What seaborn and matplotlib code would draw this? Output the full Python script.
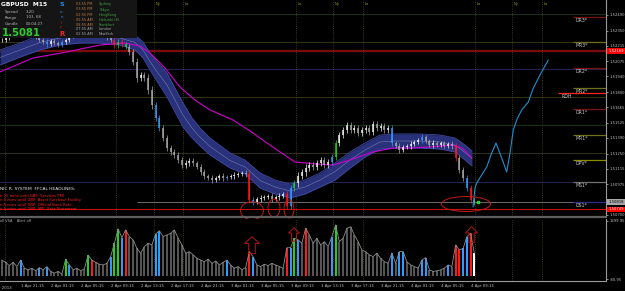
import numpy as np
import matplotlib
matplotlib.use("Agg")
import matplotlib.pyplot as plt
import seaborn as sns
from matplotlib.patches import Rectangle, Ellipse, Polygon
from matplotlib.lines import Line2D

# ---------------- data ----------------
# 30-minute closes, GBPUSD, starting 1 Apr 18:30
close = [1.52266, 1.52284, 1.52311, 1.52329, 1.52356, 1.52338, 1.52364, 1.52347, 1.52320, 1.52293,
         1.52266, 1.52248, 1.52230, 1.52257, 1.52239, 1.52221, 1.52248, 1.52266, 1.52302, 1.52329,
         1.52356, 1.52373, 1.52382, 1.52364, 1.52347, 1.52356, 1.52329, 1.52311, 1.52284, 1.52266,
         1.52221, 1.52248, 1.52230, 1.52203, 1.52159, 1.52069, 1.51926, 1.51953, 1.51926, 1.51819,
         1.51684, 1.51568, 1.51478, 1.51389, 1.51299, 1.51264, 1.51237, 1.51192, 1.51147, 1.51165,
         1.51183, 1.51165, 1.51129, 1.51085, 1.51049, 1.51031, 1.51013, 1.51031, 1.51049, 1.51031,
         1.51040, 1.51049, 1.51058, 1.51067, 1.51076, 1.51067, 1.50834, 1.50816, 1.50843, 1.50852,
         1.50861, 1.50870, 1.50843, 1.50861, 1.50870, 1.50888, 1.50780, 1.50941, 1.50986, 1.51049,
         1.51085, 1.51120, 1.51147, 1.51129, 1.51165, 1.51192, 1.51147, 1.51174, 1.51219, 1.51344,
         1.51416, 1.51461, 1.51505, 1.51461, 1.51478, 1.51434, 1.51461, 1.51478, 1.51443, 1.51514,
         1.51478, 1.51496, 1.51461, 1.51478, 1.51344, 1.51317, 1.51282, 1.51308, 1.51317, 1.51335,
         1.51353, 1.51371, 1.51398, 1.51362, 1.51326, 1.51344, 1.51326, 1.51344, 1.51317, 1.51335,
         1.51317, 1.51210, 1.51103, 1.51031, 1.50941, 1.50834, 1.50818]
# candle wick extension (pips)
wick_pips = [3, 4, 3, 4, 3, 3, 4, 3, 4, 3, 4, 3, 5, 3, 4, 3, 4, 3, 3, 4,
             3, 3, 4, 3, 4, 3, 3, 4, 3, 4, 6, 5, 5, 4, 5, 6, 7, 6, 6, 7,
             7, 6, 6, 6, 5, 6, 5, 5, 6, 5, 5, 5, 4, 5, 5, 4, 5, 4, 4, 5,
             4, 4, 5, 4, 4, 5, 5, 5, 4, 5, 4, 4, 5, 4, 5, 4, 5, 6, 6, 7,
             6, 8, 6, 5, 5, 6, 5, 5, 5, 6, 6, 5, 6, 6, 5, 6, 5, 6, 5, 6,
             5, 5, 5, 5, 6, 4, 5, 4, 4, 5, 4, 4, 5, 4, 4, 5, 4, 4, 4, 4,
             5, 5, 5, 5, 6, 5, 5]
candle_marks = {12: 'b', 16: 'b', 30: 'r', 31: 'g', 32: 'r', 33: 'g', 41: 'b', 42: 'b',
                60: 'b', 66: 'r', 67: 'b', 76: 'r', 77: 'b', 78: 'g', 88: 'b', 89: 'g',
                104: 'b', 112: 'b', 121: 'r', 124: 'b', 125: 'r'}

volume = [500, 430, 330, 430, 300, 500, 250, 200, 250, 170,
          270, 200, 300, 150, 100, 150, 70, 520, 350, 200,
          250, 170, 230, 650, 500, 430, 370, 350, 400, 600,
          1015, 1455, 1190, 1425, 1220, 1120, 860, 710, 910, 1015,
          965, 1300, 1400, 1220, 1270, 1320, 1425, 1170, 965, 710,
          760, 660, 555, 500, 450, 530, 400, 470, 350, 430,
          500, 350, 250, 300, 200, 270, 760, 600, 350, 300,
          370, 330, 400, 350, 300, 250, 880, 880, 1170, 1120,
          1015, 1475, 1270, 1015, 1170, 965, 1066, 910, 1220, 1578,
          1066, 1170, 1475, 1525, 1270, 1066, 810, 760, 660, 605,
          710, 555, 450, 400, 710, 400, 760, 760, 450, 350,
          300, 250, 500, 575, 200, 150, 170, 200, 250, 350,
          300, 965, 810, 860, 1220, 1320, 710]
vol_marks = {5: 'b', 10: 'b', 12: 'b', 17: 'g', 18: 'b', 23: 'g', 24: 'r', 29: 'b', 30: 'g',
             31: 'g', 32: 'b', 33: 'r', 41: 'b', 42: 'b', 60: 'b', 66: 'r', 67: 'b', 76: 'r',
             77: 'b', 78: 'g', 79: 'b', 81: 'r', 88: 'b', 89: 'g', 104: 'b', 106: 'b', 107: 'b',
             112: 'b', 113: 'b', 119: 'b', 121: 'r', 122: 'r', 123: 'b', 124: 'b', 125: 'r', 126: 'w'}

# envelope band (hours since start)
band_t = [0, 2.67, 5.33, 8, 10.67, 13.33, 16, 18, 19.07, 20, 21.07, 22.27, 23.33, 24.4, 25.6,
          26.67, 28, 30.67, 32.67, 34.67, 36.67, 38.67, 40.67, 42.67, 44.67, 46.67, 48.67,
          50.67, 52.67, 54.67, 56, 58.67, 60.67, 62, 62.93]
band_hi = [1.52177, 1.52239, 1.52311, 1.52347, 1.52364, 1.52364, 1.52347, 1.52311, 1.52248,
           1.52150, 1.52060, 1.51971, 1.51836, 1.51702, 1.51568, 1.51478, 1.51389, 1.51255,
           1.51192, 1.51076, 1.51013, 1.50977, 1.51013, 1.51076, 1.51165, 1.51264, 1.51344,
           1.51416, 1.51425, 1.51425, 1.51425, 1.51416, 1.51389, 1.51326, 1.51273]
band_lo = [1.52042, 1.52114, 1.52177, 1.52221, 1.52239, 1.52239, 1.52221, 1.52177, 1.52105,
           1.51998, 1.51881, 1.51756, 1.51622, 1.51487, 1.51389, 1.51317, 1.51237, 1.51120,
           1.51067, 1.50941, 1.50888, 1.50852, 1.50888, 1.50950, 1.51013, 1.51120, 1.51219,
           1.51290, 1.51299, 1.51299, 1.51299, 1.51290, 1.51264, 1.51192, 1.51138]
ma_t = [0, 4.4, 8.93, 13.33, 16.67, 18.67, 20, 22, 24, 26, 28, 31.07, 33.33, 35.6, 37.33,
        39.33, 42.27, 44.4, 46.67, 49.73, 52.4, 54.67, 57.33, 60.27, 61.6, 62.93]
ma_p = [1.51980, 1.52105, 1.52159, 1.52221, 1.52239, 1.52212, 1.52150, 1.52015, 1.51845,
        1.51729, 1.51640, 1.51550, 1.51452, 1.51344, 1.51264, 1.51174, 1.51156, 1.51147,
        1.51192, 1.51264, 1.51299, 1.51299, 1.51308, 1.51326, 1.51299, 1.51210]
proj_t = [63.07, 63.33, 63.56, 64.23, 64.89, 65.56, 66.13, 66.89, 67.56, 68.0, 68.44, 68.89,
          69.56, 70.44, 71.11, 72.0, 73.11]
proj_p = [1.50771, 1.50941, 1.50986, 1.51058, 1.51129, 1.51255, 1.51344, 1.51210, 1.51085,
          1.51255, 1.51461, 1.51550, 1.51640, 1.51711, 1.51836, 1.51953, 1.52087]

session_t = [0.67, 15.47, 20.53, 24.4, 39.47, 44.4, 48.4, 63.33, 68.27, 72.27]
session_lbl = ["", "Lo", "Ny", "Lo", "Lo", "Ny", "Lo", "Lo", "Ny", "Lo"]

date_t = [2.8 + 4 * k for k in range(16)]
date_labels = ["1 Apr 21:15", "2 Apr 01:15", "2 Apr 05:15", "2 Apr 09:15", "2 Apr 13:15",
               "2 Apr 17:15", "2 Apr 21:15", "3 Apr 01:15", "3 Apr 05:15", "3 Apr 09:15",
               "3 Apr 13:15", "3 Apr 17:15", "3 Apr 21:15", "4 Apr 01:15", "4 Apr 05:15",
               "4 Apr 09:15"]
price_ticks = [1.52490, 1.52350, 1.52215, 1.52075, 1.51940, 1.51800, 1.51665, 1.51525,
               1.51390, 1.51250, 1.51115, 1.50975, 1.50700]
vol_ticks = [1699.95, -80.95]

grid_levels = [1.52499, 1.52248, 1.52006, 1.51756, 1.51505, 1.51255, 1.50995]
grid_colors = ["#1f3a1f", "#3c3c16", "#2a2a5c", "#3c3c16", "#173d17", "#3a3a20", "#2a2a5c"]
res_line = 1.52169
sup_line = 1.50749
bid = 1.50818

pivot_names = ["DR3*", "MR3*", "DR2*", "MR2*", "DR1*", "MR1*", "DPV*", "MS1*", "DS1*"]
pivot_prices = [1.52472, 1.52248, 1.52015, 1.51836, 1.51648, 1.51416, 1.51192, 1.50995, 1.50816]
pivot_colors = ["#7a1212", "#70701a", "#7a1212", "#70701a", "#7a1212", "#70701a", "#8c8c00",
                "#707070", "#2a2a90"]
rdh_price = 1.51792

headline_title = "NIC R. SYSTEM  FFCAL HEADLINES:"
headlines = ["n 25 mins until GBP: Services PMI",
             "n 5 mins until GBP: Asset Purchase Facility",
             "n 5 mins until GBP: Official Bank Rate",
             "n 5 mins until GBP: MPC Rate Statement"]
session_times = ["03:55 PM", "03:55 PM", "02:55 PM", "05:55 AM", "08:55 AM", "07:55 AM", "02:55 AM"]
session_names = ["Sydney", "Tokyo", "HongKong", "Helsinki (8)", "Frankfurt", "London", "NewYork"]

# ---------------- style ----------------
sns.set_theme(style="dark", rc={"axes.facecolor": "black", "figure.facecolor": "black",
                                "axes.edgecolor": "#909090", "axes.grid": False,
                                "xtick.color": "#b8b8b8", "ytick.color": "#b8b8b8",
                                "text.color": "#c8c8c8"})
plt.rcParams["font.family"] = ["DejaVu Sans"]

MARK_COL = {"b": "#2f9bff", "g": "#1ed21e", "r": "#ff1a1a", "w": "#ffffff"}
W, H = 625, 291
PX_PER_HOUR = 7.5
P_TOP, P_PER_PX = 1.52624, 0.0000895
V_PER_PX = 30.7


def fx(px):
    return px / W


def fy(py):
    return 1 - py / H


fig = plt.figure(figsize=(6.25, 2.91), dpi=100)
ax = fig.add_axes([0, fy(217), 606 / W, 217 / H])
axv = fig.add_axes([0, fy(281), 606 / W, (281 - 219) / H])
T_MAX = 606 / PX_PER_HOUR
ax.set_xlim(0, T_MAX)
ax.set_ylim(P_TOP - 217 * P_PER_PX, P_TOP)
axv.set_xlim(0, T_MAX)
axv.set_ylim(-80.95 - 2 * V_PER_PX, 1699.95 + 2 * V_PER_PX)

# ---------------- main panel ----------------
for p, c in zip(grid_levels, grid_colors):
    ax.axhline(p, color=c, lw=0.6, zorder=1)
ax.axhline(res_line, color="#760c0c", lw=1.7, zorder=1)
ax.axhline(sup_line, color="#c41010", lw=0.8, zorder=1)
ax.hlines(bid, 137 / PX_PER_HOUR, T_MAX, color="#6a6a6a", lw=0.7, zorder=1)

for st, lbl in zip(session_t, session_lbl):
    for a in (ax, axv):
        a.axvline(st, color="#4a4a1e", lw=0.6, ls=(0, (1, 1.6)), zorder=1)
    if lbl:
        ax.text(st + 2 / PX_PER_HOUR, P_TOP - 4 * P_PER_PX, lbl, color="#9a9a30",
                fontsize=2.6, va="center", ha="left", zorder=6)

# band
ax.fill_between(band_t, band_lo, band_hi, color="#28317a", lw=0, zorder=2)
ax.plot(band_t, band_hi, color="#3e4aa2", lw=0.6, zorder=2.1)
ax.plot(band_t, band_lo, color="#3e4aa2", lw=0.6, zorder=2.1)
ax.plot(band_t, (np.array(band_hi) + np.array(band_lo)) / 2, color="#8088b8", lw=0.35, zorder=2.2)

sns.lineplot(x=ma_t, y=ma_p, ax=ax, color="#d000d0", lw=0.8, estimator=None, sort=False, zorder=3)

# candles
n = len(close)
t = 0.25 + 0.5 * np.arange(n)
c_arr = np.array(close)
o_arr = np.r_[c_arr[0], c_arr[:-1]]
w_arr = np.array(wick_pips) * 0.00005
hi = np.maximum(o_arr, c_arr) + w_arr
lo = np.minimum(o_arr, c_arr) - w_arr
ccols = []
for i in range(n):
    if i in candle_marks:
        ccols.append(MARK_COL[candle_marks[i]])
    else:
        ccols.append("#f0f0f0" if c_arr[i] >= o_arr[i] else "#a6a6a6")
ax.vlines(t, lo, hi, colors=ccols, lw=0.5, zorder=4)
ax.vlines(t, np.minimum(o_arr, c_arr), np.maximum(o_arr, c_arr), colors=ccols, lw=1.1, zorder=4)

sns.lineplot(x=proj_t, y=proj_p, ax=ax, color="#1e8fd0", lw=0.8, estimator=None, sort=False, zorder=4)

# pivots
for name, p, c in zip(pivot_names, pivot_prices, pivot_colors):
    ax.hlines(p, 573 / PX_PER_HOUR, T_MAX, color=c, lw=0.9, zorder=2)
    ax.text(576 / PX_PER_HOUR, p - 0.6 * P_PER_PX, name, color="#c8c8c8", fontsize=3.3,
            va="top", ha="left", zorder=6)
ax.hlines(rdh_price, 558 / PX_PER_HOUR, T_MAX, color="#ff2020", lw=0.9, zorder=2)
ax.text(562 / PX_PER_HOUR, rdh_price - 1.0 * P_PER_PX, "RDH", color="#c8c8c8", fontsize=3.3,
        va="top", ha="left", zorder=6)

# ellipses and marker
ell = [(252, 210.7, 23, 18), (274, 208, 12, 18), (289, 209, 10, 18), (466, 204, 49, 15)]
for ex, ey, ew, eh in ell:
    e = Ellipse((ex / PX_PER_HOUR, P_TOP - ey * P_PER_PX), ew / PX_PER_HOUR, eh * P_PER_PX,
                fill=False, ec="#c01818", lw=0.7, zorder=5, clip_on=False)
    ax.add_patch(e)
ax.plot([478 / PX_PER_HOUR], [P_TOP - 202 * P_PER_PX], "s", color="#22e022", ms=2, zorder=6)

# axis styling main
for s in ("left", "top", "bottom"):
    ax.spines[s].set_visible(False)
ax.spines["right"].set_color("#9a9a9a")
ax.spines["right"].set_linewidth(0.8)
ax.set_xticks([])
ax.yaxis.tick_right()
ax.set_yticks(price_ticks)
ax.set_yticklabels([f"{v:.5f}" for v in price_ticks])
ax.tick_params(axis="y", labelsize=2.7, length=1.5, width=0.5, pad=1.2, colors="#c0c0c0")
ax.set_ylabel("")

tags = [(res_line, "1.52169", "#ff0000", "white"), (bid, "1.50818", "#a8a8a8", "black"),
        (sup_line, "1.50749", "#ff0000", "white")]
for p, txt, bg, fg in tags:
    ax.text(1.004, p, txt, transform=ax.get_yaxis_transform(), fontsize=2.7, color=fg,
            ha="left", va="center", zorder=7, clip_on=False,
            bbox=dict(boxstyle="square,pad=0.25", fc=bg, ec="none"))

# ---------------- volume panel ----------------
vcols = [MARK_COL[vol_marks[i]] if i in vol_marks else "#555555" for i in range(n)]
axv.bar(t, volume, width=0.28, color=vcols, lw=0, zorder=2)
sns.lineplot(x=t, y=volume, ax=axv, color="#8c8c8c", lw=0.6, estimator=None, zorder=3)

arrows = [(252, 236.7, 15, 17), (294, 227.7, 11, 13.5), (471.5, 226.5, 12, 16)]
for axp, ayp, aw, ah in arrows:
    hh = ah * 0.4
    sw = aw * 0.22
    pts_px = [(0, 0), (aw / 2, hh), (sw, hh), (sw, ah), (-sw, ah), (-sw, hh), (-aw / 2, hh)]
    pts = [((axp + dx) / PX_PER_HOUR, 1699.95 - (ayp + dy - 221) * V_PER_PX) for dx, dy in pts_px]
    axv.add_patch(Polygon(pts, closed=True, fill=False, ec="#b01515", lw=0.7, zorder=5,
                          clip_on=False))

for s in ("left", "top"):
    axv.spines[s].set_visible(False)
for s in ("right", "bottom"):
    axv.spines[s].set_color("#9a9a9a")
    axv.spines[s].set_linewidth(0.8)
axv.yaxis.tick_right()
axv.set_yticks(vol_ticks)
axv.set_yticklabels([f"{v:.2f}" for v in vol_ticks])
axv.tick_params(axis="y", labelsize=2.7, length=1.5, width=0.5, pad=1.2, colors="#c0c0c0")
axv.set_xticks(date_t)
axv.set_xticklabels(date_labels, ha="left")
axv.tick_params(axis="x", labelsize=2.8, length=1.5, width=0.5, pad=1.0, colors="#c0c0c0")
axv.set_xlabel("")
axv.set_ylabel("")
fig.text(fx(-10), fy(288), "1 Apr 2013", fontsize=2.8, color="#c0c0c0", ha="left", va="center")

# separator between panels
fig.add_artist(Line2D([0, fx(606)], [fy(216.6), fy(216.6)], color="#5e5e5e", lw=1.6,
                      transform=fig.transFigure, zorder=3))

# ---------------- overlay texts ----------------
fig.add_artist(Rectangle((0, fy(38)), fx(137), 38 / H, transform=fig.transFigure,
                         fc="#151515", ec="none", zorder=5))
fig.text(fx(1), fy(5), "GBPUSD  M15", color="white", fontsize=4.3, fontweight="bold",
         va="center", zorder=6)
for lbl, val, yy in [("Spread", "3.20", 12), ("Range", "103, 68", 17.5), ("Candle", "00:04:27", 24)]:
    fig.text(fx(5), fy(yy), lbl, color="#b8b8b8", fontsize=2.8, va="center", zorder=6)
    fig.text(fx(26), fy(yy), val, color="#b8b8b8", fontsize=2.8, va="center", zorder=6)
fig.text(fx(2), fy(32.5), "1.5081", color="#2ecc2e", fontsize=7.2, fontweight="bold",
         va="center", zorder=6)
fig.text(fx(59), fy(5), "S", color="#1e90ff", fontsize=4.6, fontweight="bold", va="center", zorder=6)
for ch, yy, col in [("o", 12, "#1e90ff"), ("n", 17.5, "#1e90ff"), ("i", 22.5, "#ff2020"),
                    ("c", 27, "#ff2020")]:
    fig.text(fx(60.2), fy(yy), ch, color=col, fontsize=2.8, va="center", zorder=6)
fig.text(fx(59), fy(33.5), "R", color="#ff2020", fontsize=5.0, fontweight="bold", va="center", zorder=6)
time_y = [4, 9.5, 14.7, 20, 24.7, 29, 33.7]
for k, (tt, nm, yy) in enumerate(zip(session_times, session_names, time_y)):
    fig.text(fx(76), fy(yy), tt, color="#c07a3a" if k < 5 else "#a0a0a0", fontsize=2.5,
             va="center", zorder=6)
    fig.text(fx(99), fy(yy), nm, color="#3fa43f" if k < 5 else "#a8a8a8", fontsize=2.5,
             va="center", zorder=6)

fig.text(fx(0), fy(189), headline_title, color="#e8e8e8", fontsize=3.2, va="center", zorder=6)
for k, hl in enumerate(headlines):
    fig.text(fx(0), fy(195.6 + 4.5 * k), hl, color="#ff2020", fontsize=2.7, va="center", zorder=6)
fig.text(fx(0), fy(221.5), "ell VSA    Alert off", color="#b0b0b0", fontsize=2.5, va="center", zorder=6)

fig.savefig("out.png", dpi=100, facecolor="black")
